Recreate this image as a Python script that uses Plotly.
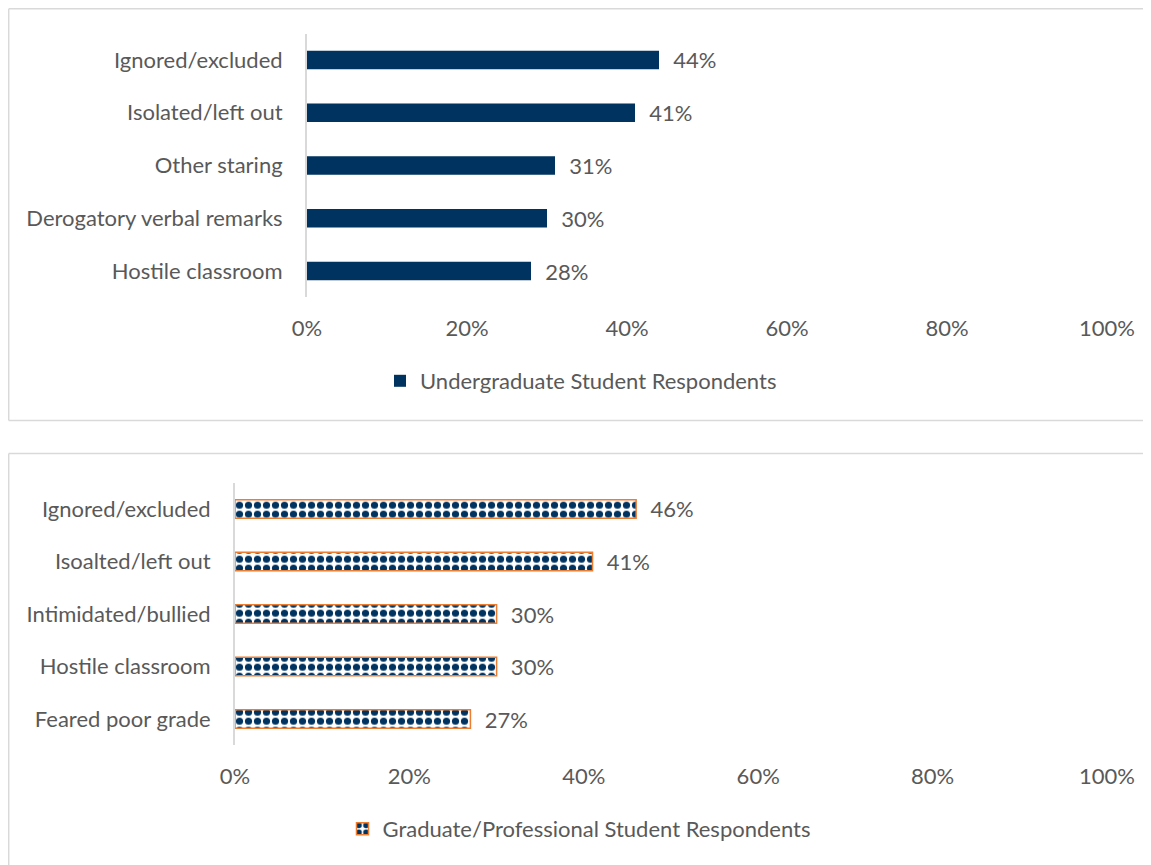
import plotly.graph_objects as go

# data
ug_cats = ["Ignored/excluded", "Isolated/left out", "Other staring",
           "Derogatory verbal remarks", "Hostile classroom"]
ug_vals = [0.44, 0.41, 0.31, 0.30, 0.28]

gr_cats = ["Ignored/excluded", "Isoalted/left out", "Intimidated/bullied",
           "Hostile classroom", "Feared poor grade"]
gr_vals = [0.46, 0.41, 0.30, 0.30, 0.27]

ug_name = "Undergraduate Student Respondents"
gr_name = "Graduate/Professional Student Respondents"

NAVY = "#00335f"
ORANGE = "#ed7d31"
GREY = "#595959"
BORDER = "#d9d9d9"
FONT = "Lato"
fsize = 22

OFF = 8  # page body margin
W, H = 1151, 865


def px(x):
    return (x - OFF) / W


def py(y):
    return 1 - (y - OFF) / H


fig = go.Figure()

fig.add_trace(go.Bar(
    x=ug_vals, y=ug_cats, orientation="h", name=ug_name,
    marker=dict(color=NAVY, line=dict(width=0)),
    width=0.35, showlegend=True,
    texttemplate="\u00a0\u00a0%{x:.0%}", textposition="outside",
    textfont=dict(family=FONT, size=fsize, color=GREY),
    constraintext="none", cliponaxis=False,
    xaxis="x", yaxis="y", legend="legend",
))

fig.add_trace(go.Bar(
    x=gr_vals, y=gr_cats, orientation="h", name=gr_name,
    marker=dict(color="white", line=dict(color=ORANGE, width=1.5),
                pattern=dict(shape=".", fgcolor=NAVY, bgcolor="white",
                             fgopacity=1, size=9, solidity=0.5,
                             fillmode="overlay")),
    width=0.35, showlegend=True,
    texttemplate="\u00a0\u00a0%{x:.0%}", textposition="outside",
    textfont=dict(family=FONT, size=fsize, color=GREY),
    constraintext="none", cliponaxis=False,
    xaxis="x2", yaxis="y2", legend="legend2",
))

xax = dict(range=[0, 1], dtick=0.2, tickformat=".0%", showgrid=False,
           zeroline=False, showline=False, ticks="", ticklabelstandoff=16,
           automargin=False,
           tickfont=dict(family=FONT, size=fsize, color=GREY))
yax = dict(autorange="reversed", showgrid=False, zeroline=False,
           showline=True, linecolor=BORDER, linewidth=2, ticks="",
           ticklabelstandoff=18, automargin=False,
           tickfont=dict(family=FONT, size=fsize, color=GREY))


def box_lines(top, bottom):
    # frame open on the right: top, left and bottom edges
    ln = dict(color=BORDER, width=1.5)
    out = [
        dict(type="line", xref="paper", yref="paper", x0=0.7 / W, x1=1.05,
             y0=top, y1=top, line=ln, layer="below"),
        dict(type="line", xref="paper", yref="paper", x0=0.7 / W, x1=0.7 / W,
             y0=bottom, y1=top, line=ln, layer="below"),
    ]
    if bottom > 0:
        out.append(dict(type="line", xref="paper", yref="paper", x0=0.7 / W,
                        x1=1.05, y0=bottom, y1=bottom, line=ln, layer="below"))
    return out


fig.update_layout(
    width=W, height=H,
    margin=dict(l=0, r=0, t=0, b=0, autoexpand=False),
    paper_bgcolor="white", plot_bgcolor="white",
    showlegend=True,
    font=dict(family=FONT, color=GREY, size=fsize),
    xaxis=dict(xax, domain=[px(307), px(1107)], anchor="y"),
    yaxis=dict(yax, domain=[py(297.4), py(33.6)], anchor="x"),
    xaxis2=dict(xax, domain=[px(235), px(1107)], anchor="y2"),
    yaxis2=dict(yax, domain=[py(745.3), py(482.7)], anchor="x2"),
    legend=dict(orientation="h", x=px(581), y=py(381),
                xanchor="center", yanchor="middle",
                font=dict(family=FONT, size=fsize, color=GREY)),
    legend2=dict(orientation="h", x=px(579), y=py(829),
                 xanchor="center", yanchor="middle",
                 font=dict(family=FONT, size=fsize, color=GREY)),
    shapes=box_lines(1 - 0.7 / H, py(420.5)) + box_lines(py(453.5), -0.05),
)

fig.write_html("out.html")
